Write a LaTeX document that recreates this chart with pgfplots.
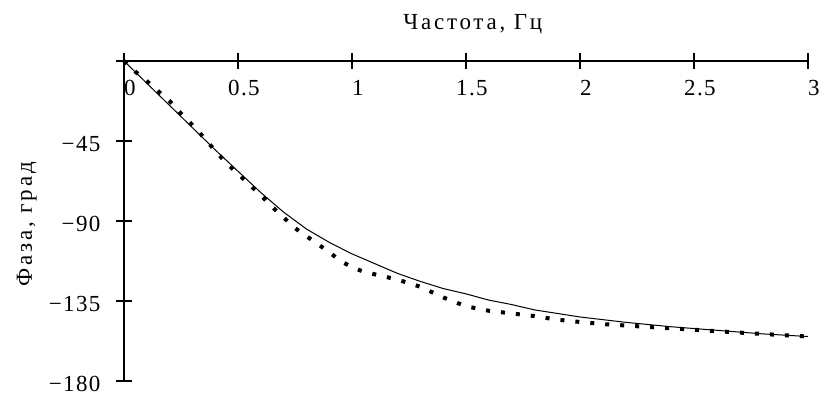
\documentclass[border=0pt]{standalone}
\usepackage{pgfplots}
\pgfplotsset{compat=1.18}
\usepackage{fontspec}
\setmainfont{Liberation Serif}
\begin{document}
\begin{tikzpicture}
\begin{axis}[
  scale only axis,
  width=684pt, height=320pt,
  xmin=0, xmax=3, ymin=-180, ymax=0,
  axis lines=center,
  axis line style={-, line width=1.2pt},
  hide obscured x ticks=false,
  hide obscured y ticks=false,
  xtick={0,0.5,1,1.5,2,2.5,3},
  xticklabels={0,0.5,1,1.5,2,2.5,3},
  ytick={-180,-135,-90,-45,0},
  yticklabels={−180,−135,−90,−45,{}},
  tick align=center,
  major tick length=16pt,
  tick style={line width=1.2pt, black},
  tick label style={font=\fontsize{23}{25}\selectfont\addfontfeatures{LetterSpace=6}},
  xticklabel style={anchor=north, yshift=-8pt, xshift=6pt},
  yticklabel style={anchor=east, xshift=-12pt, yshift=-3pt},
  label style={font=\fontsize{23}{25}\selectfont\addfontfeatures{LetterSpace=12}},
  xlabel={Частота, Гц},
  xlabel style={at={(axis description cs:0.51,1)}, anchor=base, yshift=31pt},
  ylabel={Фаза, град},
  ylabel style={at={(axis description cs:-0.142,0.49)}, anchor=center, rotate=90},
  clip=false,
]
\addplot[black, line width=1pt] coordinates {
(0,0) (0.1,-12.5) (0.2,-25) (0.3,-37.5) (0.4,-50) (0.5,-62) (0.6,-74) (0.7,-85)
(0.8,-94.5) (0.9,-102) (1.0,-108.5) (1.1,-114) (1.2,-119.5) (1.3,-124) (1.4,-128)
(1.5,-131) (1.6,-134.5) (1.7,-137) (1.8,-140) (1.9,-142) (2.0,-144) (2.2,-147)
(2.4,-149.5) (2.6,-151.5) (2.8,-153.5) (3.0,-155)
};
\addplot[black, line width=4pt, dash pattern=on 4pt off 11pt] coordinates {
(0,0) (0.05,-6) (0.1,-11.3) (0.15,-17) (0.2,-22.5) (0.25,-29.5) (0.3,-36) (0.35,-43)
(0.4,-50.5) (0.45,-57.5) (0.5,-63.5) (0.55,-69.5) (0.6,-75.5) (0.65,-82) (0.7,-88)
(0.75,-94) (0.8,-98.5) (0.85,-103) (0.9,-107.5) (0.95,-112.5) (1.0,-116) (1.05,-118.5)
(1.1,-120) (1.2,-123) (1.3,-127) (1.35,-130) (1.4,-133) (1.45,-135.5) (1.5,-138)
(1.6,-140.5) (1.7,-142) (1.8,-143.5) (1.9,-145.5) (2.0,-146.8) (2.1,-148) (2.3,-149.6)
(2.5,-151.2) (2.7,-152.8) (2.9,-154.3) (3.0,-155)
};
\end{axis}
\path (-124pt,-16pt) rectangle (699pt,381pt);
\end{tikzpicture}
\end{document}
